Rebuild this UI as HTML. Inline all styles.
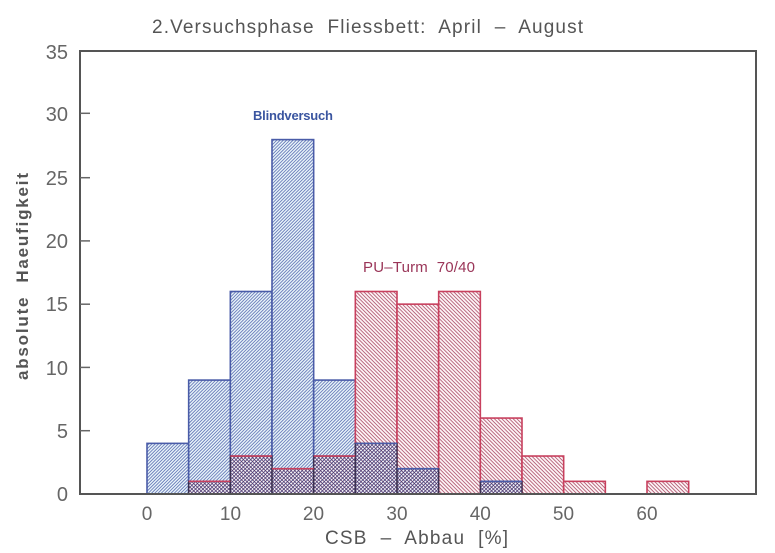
<!DOCTYPE html>
<html><head><meta charset="utf-8"><style>
html,body{margin:0;padding:0;background:#fff;}
svg{display:block;}
</style></head><body>
<svg width="775" height="553" viewBox="0 0 775 553" xmlns="http://www.w3.org/2000/svg">
<defs>
<pattern id="pb" width="2.3" height="10" patternUnits="userSpaceOnUse" patternTransform="rotate(45)">
<rect width="2.3" height="10" fill="#eaf5fa"/>
<line x1="0.5" y1="0" x2="0.5" y2="10" stroke="#4e62ac" stroke-width="0.75"/>
</pattern>
<pattern id="pr" width="2.65" height="10" patternUnits="userSpaceOnUse" patternTransform="rotate(-45)">
<rect width="2.65" height="10" fill="#fcf3f5"/>
<line x1="0.5" y1="0" x2="0.5" y2="10" stroke="#a84460" stroke-width="0.75"/>
</pattern>
<pattern id="pbd" width="2.6" height="10" patternUnits="userSpaceOnUse" patternTransform="rotate(45)">
<line x1="0.5" y1="0" x2="0.5" y2="10" stroke="#33367a" stroke-width="0.75"/>
</pattern>
<pattern id="prd" width="2.6" height="10" patternUnits="userSpaceOnUse" patternTransform="rotate(-45)">
<line x1="0.5" y1="0" x2="0.5" y2="10" stroke="#553060" stroke-width="0.75"/>
</pattern>
</defs>

<text x="152" y="33" font-family="Liberation Sans, sans-serif" font-size="19" fill="#555" textLength="431" lengthAdjust="spacing" xml:space="preserve">2.Versuchsphase  Fliessbett:  April  –  August</text>

<g stroke-width="1.6">
<rect x="147" y="443.37" width="41.67" height="50.63" fill="url(#pb)" stroke="#4a5ca8"/>
<rect x="188.67" y="380.09" width="41.67" height="113.91" fill="url(#pb)" stroke="#4a5ca8"/>
<rect x="230.33" y="291.49" width="41.67" height="202.51" fill="url(#pb)" stroke="#4a5ca8"/>
<rect x="272" y="139.6" width="41.67" height="354.4" fill="url(#pb)" stroke="#4a5ca8"/>
<rect x="313.67" y="380.09" width="41.67" height="113.91" fill="url(#pb)" stroke="#4a5ca8"/>
<rect x="355.33" y="291.49" width="41.67" height="202.51" fill="url(#pr)" stroke="#c8405e"/>
<rect x="397" y="304.15" width="41.67" height="189.85" fill="url(#pr)" stroke="#c8405e"/>
<rect x="438.67" y="291.49" width="41.67" height="202.51" fill="url(#pr)" stroke="#c8405e"/>
<rect x="480.33" y="418.06" width="41.67" height="75.94" fill="url(#pr)" stroke="#c8405e"/>
<rect x="522" y="456.03" width="41.67" height="37.97" fill="url(#pr)" stroke="#c8405e"/>
<rect x="563.67" y="481.34" width="41.67" height="12.66" fill="url(#pr)" stroke="#c8405e"/>
<rect x="647" y="481.34" width="41.67" height="12.66" fill="url(#pr)" stroke="#c8405e"/>
</g>

<g>
<rect x="188.67" y="481.34" width="41.67" height="12.66" fill="#f6f2f8"/>
<rect x="230.33" y="456.03" width="41.67" height="37.97" fill="#f6f2f8"/>
<rect x="272" y="468.69" width="41.67" height="25.31" fill="#f6f2f8"/>
<rect x="313.67" y="456.03" width="41.67" height="37.97" fill="#f6f2f8"/>
<rect x="355.33" y="443.37" width="41.67" height="50.63" fill="#f2f2fa"/>
<rect x="397" y="468.69" width="41.67" height="25.31" fill="#f2f2fa"/>
<rect x="480.33" y="481.34" width="41.67" height="12.66" fill="#f2f2fa"/>
</g>
<g fill="url(#pbd)">
<rect x="188.67" y="481.34" width="41.67" height="12.66"/>
<rect x="230.33" y="456.03" width="41.67" height="37.97"/>
<rect x="272" y="468.69" width="41.67" height="25.31"/>
<rect x="313.67" y="456.03" width="41.67" height="37.97"/>
<rect x="355.33" y="443.37" width="41.67" height="50.63"/>
<rect x="397" y="468.69" width="41.67" height="25.31"/>
<rect x="480.33" y="481.34" width="41.67" height="12.66"/>
</g>
<g fill="url(#prd)" stroke="#3a3050" stroke-width="1.4">
<rect x="188.67" y="481.34" width="41.67" height="12.66"/>
<rect x="230.33" y="456.03" width="41.67" height="37.97"/>
<rect x="272" y="468.69" width="41.67" height="25.31"/>
<rect x="313.67" y="456.03" width="41.67" height="37.97"/>
<rect x="355.33" y="443.37" width="41.67" height="50.63"/>
<rect x="397" y="468.69" width="41.67" height="25.31"/>
<rect x="480.33" y="481.34" width="41.67" height="12.66"/>
</g>
<g stroke-width="1.6">
<line x1="188.67" y1="481.34" x2="230.33" y2="481.34" stroke="#c8405e"/>
<line x1="230.33" y1="456.03" x2="272" y2="456.03" stroke="#c8405e"/>
<line x1="272" y1="468.69" x2="313.67" y2="468.69" stroke="#c8405e"/>
<line x1="313.67" y1="456.03" x2="355.33" y2="456.03" stroke="#c8405e"/>
<line x1="355.33" y1="443.37" x2="397" y2="443.37" stroke="#4a5ca8"/>
<line x1="397" y1="468.69" x2="438.67" y2="468.69" stroke="#4a5ca8"/>
<line x1="480.33" y1="481.34" x2="522" y2="481.34" stroke="#4a5ca8"/>
</g>

<rect x="80" y="51" width="676" height="443" fill="none" stroke="#555" stroke-width="2"/>
<g stroke="#666" stroke-width="1.5">
<line x1="80" y1="113.3" x2="90" y2="113.3"/>
<line x1="80" y1="177.7" x2="90" y2="177.7"/>
<line x1="80" y1="240.9" x2="90" y2="240.9"/>
<line x1="80" y1="304.2" x2="90" y2="304.2"/>
<line x1="80" y1="367.4" x2="90" y2="367.4"/>
<line x1="80" y1="430.7" x2="90" y2="430.7"/>
</g>

<g font-family="Liberation Sans, sans-serif" font-size="20" fill="#666" text-anchor="end">
<text x="68" y="59">35</text>
<text x="68" y="121">30</text>
<text x="68" y="185">25</text>
<text x="68" y="248">20</text>
<text x="68" y="311">15</text>
<text x="68" y="375">10</text>
<text x="68" y="438">5</text>
<text x="68" y="501">0</text>
</g>

<g font-family="Liberation Sans, sans-serif" font-size="19" fill="#666" text-anchor="middle">
<text x="147" y="520">0</text>
<text x="230.5" y="520">10</text>
<text x="313.5" y="520">20</text>
<text x="397" y="520">30</text>
<text x="480.3" y="520">40</text>
<text x="563.5" y="520">50</text>
<text x="647" y="520">60</text>
</g>

<text x="325" y="544" font-family="Liberation Sans, sans-serif" font-size="19" fill="#555" textLength="183" lengthAdjust="spacing" xml:space="preserve">CSB  –  Abbau  [%]</text>
<text transform="translate(28,380) rotate(-90)" font-family="Liberation Sans, sans-serif" font-size="17" font-weight="bold" fill="#555" textLength="207" lengthAdjust="spacing" xml:space="preserve">absolute  Haeufigkeit</text>

<text x="253" y="120" font-family="Liberation Sans, sans-serif" font-size="13" font-weight="bold" fill="#3a55a0" textLength="80" lengthAdjust="spacing">Blindversuch</text>
<text x="363" y="272" font-family="Liberation Sans, sans-serif" font-size="15" fill="#9a3558" textLength="112" lengthAdjust="spacing" xml:space="preserve">PU–Turm  70/40</text>
</svg>
</body></html>
